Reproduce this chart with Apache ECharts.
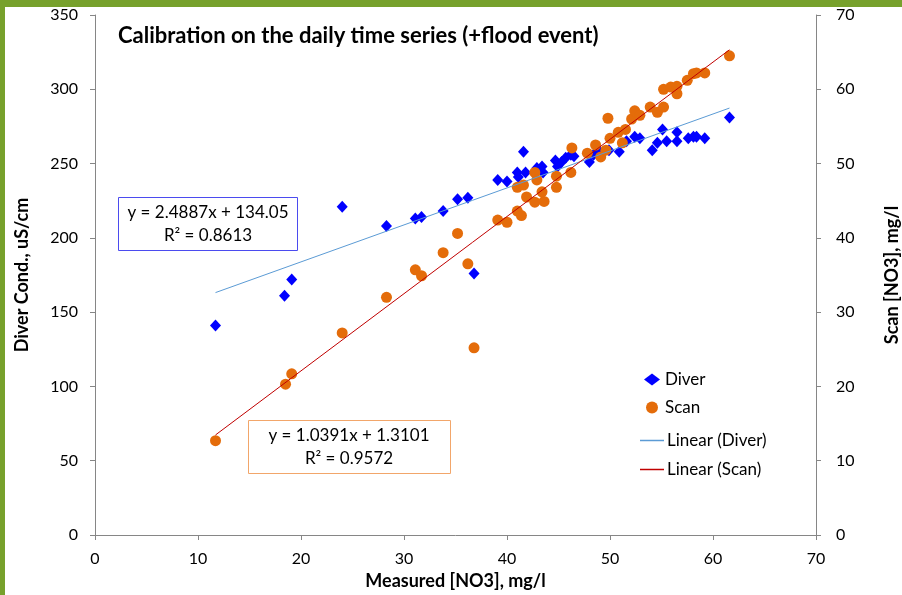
<!DOCTYPE html>
<html>
<head>
<meta charset="utf-8">
<script src="https://cdn.jsdelivr.net/npm/echarts@6/dist/echarts.min.js"></script>
<style>
html,body{margin:0;padding:0;background:#fff;}
#c{width:902px;height:595px;}
</style>
</head>
<body>
<div id="c"></div>
<script>
// ---- data ----
const titleText = 'Calibration on the daily time series (+flood event)';
const xTicks = [0, 70, 10];
const yLeftTicks = [0, 350, 50];
const yRightTicks = [0, 70, 10];

// Diver: [measured NO3, Diver conductivity uS/cm]
const diverData = [
  [11.7,141],[18.4,161],[19.1,172],[24.0,221],[28.3,208],[31.1,213],[31.7,214],[33.8,218],
  [35.2,226],[36.2,227],[36.8,176],[39.1,239],[40.0,238],[41.0,244],[41.1,241],[41.6,258],
  [41.8,244],[42.9,247],[43.4,248],[43.5,244],[44.7,252],[44.9,248],[45.3,251],[45.7,254],
  [46.2,256],[46.5,255],[48.0,251],[48.4,256],[49.0,258],[49.9,259],[50.9,258],[51.6,265],
  [52.4,268],[52.9,267],[54.1,259],[54.6,264],[55.1,273],[55.5,265],[56.5,271],[56.5,265],
  [57.6,267],[58.1,268],[58.4,268],[59.2,267],[61.6,281]
];
// Scan: [measured NO3, Scan NO3 mg/l]
const scanData = [
  [11.7,12.7],[18.5,20.3],[19.1,21.7],[24.0,27.2],[28.3,32.0],[31.1,35.7],[31.7,34.9],[33.8,38.0],
  [35.2,40.6],[36.2,36.5],[36.8,25.2],[39.1,42.4],[40.0,42.1],[41.0,43.6],[41.4,43.0],[41.0,46.8],
  [41.6,47.1],[41.9,45.5],[42.7,44.8],[43.6,44.9],[43.4,46.2],[42.7,48.8],[42.9,47.8],[44.8,48.3],
  [44.8,46.8],[46.2,48.8],[46.3,52.1],[47.8,51.4],[48.6,52.5],[49.1,50.9],[49.6,51.8],[50.0,53.4],
  [49.8,56.1],[50.8,54.2],[51.2,52.8],[51.5,54.6],[52.1,56.0],[52.4,57.1],[52.9,56.5],[53.9,57.6],
  [54.6,56.9],[55.2,57.6],[55.2,60.0],[55.9,60.3],[56.5,60.4],[56.5,59.4],[57.5,61.2],[58.1,62.1],
  [58.4,62.2],[59.2,62.2],[61.6,64.5]
];
// trendline coefficients [slope, intercept] and x-range
const diverFit = [2.4887, 134.05];
const scanFit = [1.0391, 1.3101];
const fitRange = [11.7, 61.6];
const diverEq = ['y = 2.4887x + 134.05', 'R² = 0.8613'];
const scanEq = ['y = 1.0391x + 1.3101', 'R² = 0.9572'];
const legendNames = ['Diver', 'Scan', 'Linear (Diver)', 'Linear (Scan)'];

const fitLine = (c) => fitRange.map(x => [x, c[0] * x + c[1]]);

const FONT = 'Lato, "Open Sans", sans-serif';
const axisCol = '#868686';

const chart = echarts.init(document.getElementById('c'), null, {renderer: 'canvas'});
chart.setOption({
  backgroundColor: '#ffffff',
  animation: false,
  title: {
    text: titleText, left: 113, top: 20,
    textStyle: {fontFamily: FONT, fontSize: 22, fontWeight: 'bold', color: '#000'}
  },
  grid: {left: 95, right: 86, top: 15, bottom: 60, outerBoundsMode: 'none', containLabel: false},
  legend: [{
    data: [{name: legendNames[0], icon: 'diamond'}, {name: legendNames[1], icon: 'circle'}],
    orient: 'vertical', left: 639, top: 366, itemWidth: 16, itemHeight: 12, itemGap: 11,
    textStyle: {fontFamily: FONT, fontSize: 17, color: '#000'}
  }, {
    data: [legendNames[2], legendNames[3]],
    icon: 'rect',
    orient: 'vertical', left: 635, top: 427, itemWidth: 24, itemHeight: 1.5, itemGap: 12,
    textStyle: {fontFamily: FONT, fontSize: 17, color: '#000', padding: [0,0,0,-2]}
  }],
  xAxis: {
    type: 'value', min: xTicks[0], max: xTicks[1], interval: xTicks[2],
    name: 'Measured [NO3], mg/l', nameLocation: 'middle', nameGap: 34,
    nameTextStyle: {fontFamily: FONT, fontSize: 18, fontWeight: 'bold', color: '#000'},
    axisLine: {show: true, onZero: false, lineStyle: {color: axisCol}},
    axisTick: {show: true, length: 5, lineStyle: {color: axisCol}},
    axisLabel: {fontFamily: FONT, fontSize: 16, color: '#000', margin: 16},
    splitLine: {show: false}
  },
  yAxis: [{
    type: 'value', min: yLeftTicks[0], max: yLeftTicks[1], interval: yLeftTicks[2], position: 'left',
    name: 'Diver Cond., uS/cm', nameLocation: 'middle', nameGap: 64, nameRotate: 90,
    nameTextStyle: {fontFamily: FONT, fontSize: 18, fontWeight: 'bold', color: '#000'},
    axisLine: {show: true, lineStyle: {color: axisCol}},
    axisTick: {show: true, length: 5, lineStyle: {color: axisCol}},
    axisLabel: {fontFamily: FONT, fontSize: 16, color: '#000', margin: 17},
    splitLine: {show: false}
  }, {
    type: 'value', min: yRightTicks[0], max: yRightTicks[1], interval: yRightTicks[2], position: 'right',
    name: 'Scan [NO3], mg/l', nameLocation: 'middle', nameGap: 67, nameRotate: 90,
    nameTextStyle: {fontFamily: FONT, fontSize: 18, fontWeight: 'bold', color: '#000'},
    axisLine: {show: true, lineStyle: {color: axisCol}},
    axisTick: {show: true, length: 5, lineStyle: {color: axisCol}},
    axisLabel: {fontFamily: FONT, fontSize: 16, color: '#000', margin: 20},
    splitLine: {show: false}
  }],
  series: [{
    name: legendNames[0], type: 'scatter', yAxisIndex: 0, data: diverData,
    symbol: 'diamond', symbolSize: [11, 12], itemStyle: {color: '#0000ff', opacity: 1}, z: 2
  }, {
    name: legendNames[1], type: 'scatter', yAxisIndex: 1, data: scanData,
    symbol: 'circle', symbolSize: 11, itemStyle: {color: '#e46c0a', opacity: 1}, z: 3
  }, {
    name: legendNames[2], type: 'line', yAxisIndex: 0, data: fitLine(diverFit),
    showSymbol: false, symbol: 'none', lineStyle: {color: '#5b9bd5', width: 1}, itemStyle: {color: '#5b9bd5'}, z: 4
  }, {
    name: legendNames[3], type: 'line', yAxisIndex: 1, data: fitLine(scanFit),
    showSymbol: false, symbol: 'none', lineStyle: {color: '#c00000', width: 1}, itemStyle: {color: '#c00000'}, z: 5
  }],
  graphic: [
    {type: 'rect', shape: {x: 0, y: 0, width: 902, height: 7}, style: {fill: '#77a12c'}, z: 100},
    {type: 'rect', shape: {x: 0, y: 0, width: 5, height: 595}, style: {fill: '#77a12c'}, z: 100},
    {type: 'rect', shape: {x: 118.5, y: 197.5, width: 179, height: 53}, style: {fill: '#fff', stroke: '#4b4bef', lineWidth: 1}, z: 50},
    {type: 'text', x: 208, y: 224, style: {text: diverEq.join('\n'), align: 'center', verticalAlign: 'middle', fontFamily: FONT, fontSize: 17, lineHeight: 23, fill: '#000'}, z: 51},
    {type: 'rect', shape: {x: 248.5, y: 420.5, width: 202, height: 53}, style: {fill: '#fff', stroke: '#f2a66a', lineWidth: 1}, z: 50},
    {type: 'text', x: 349, y: 447, style: {text: scanEq.join('\n'), align: 'center', verticalAlign: 'middle', fontFamily: FONT, fontSize: 17, lineHeight: 23, fill: '#000'}, z: 51}
  ]
});
</script>
</body>
</html>
